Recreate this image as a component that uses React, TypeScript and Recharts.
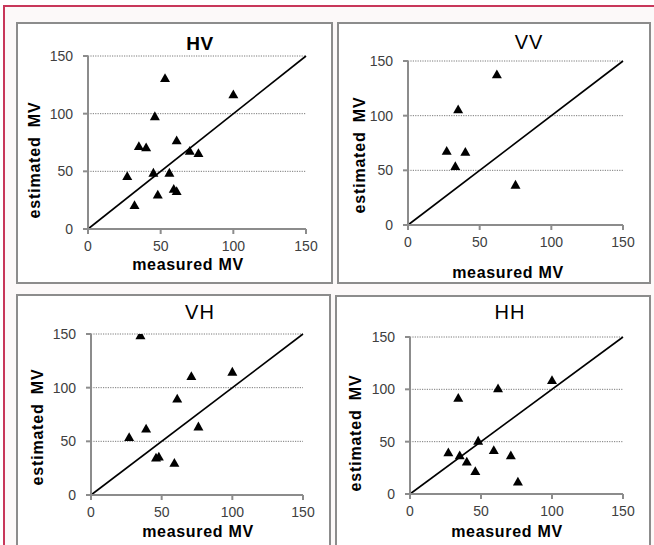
import React from "react";
import {
  ScatterChart,
  Scatter,
  XAxis,
  YAxis,
  CartesianGrid,
  ReferenceLine,
} from "recharts";

// ---- data (measured MV, estimated MV) ----
const hvMeasured = [53, 100, 46, 35, 40, 61, 70, 76, 27, 45, 56, 48, 59, 61, 32];
const hvEstimated = [130, 116, 97, 71, 70, 76, 67, 65, 45, 48, 48, 29, 34, 32, 20];

const vvMeasured = [62, 35, 27, 40, 33, 75];
const vvEstimated = [137, 105, 67, 66, 53, 36];

const vhMeasured = [35, 71, 100, 61, 39, 76, 27, 46, 48, 59];
const vhEstimated = [148, 110, 114, 89, 61, 63, 53, 34, 35, 29];

const hhMeasured = [100, 62, 34, 48, 27, 59, 35, 71, 40, 46, 76];
const hhEstimated = [108, 100, 91, 50, 39, 41, 36, 36, 30, 21, 11];

const axisTicks = [0, 50, 100, 150];
const panelTitles = ["HV", "VV", "VH", "HH"];
const xLabel = "measured MV";
const yLabel = "estimated MV";

const toPoints = (xs: number[], ys: number[]) => xs.map((x, i) => ({ x, y: ys[i] }));

const FONT = "'Liberation Sans', Arial, sans-serif";
const AXIS_GRAY = "#8c8c8c";

type Layout = {
  box: { x: number; y: number; w: number; h: number };
  plot: { x0: number; y0: number; x1: number; y1: number };
  title: { cx: number; cy: number; bold: boolean };
  xl: { cx: number; cy: number };
  yl: { cx: number; cy: number };
};

const layouts: Layout[] = [
  {
    box: { x: 16, y: 22, w: 317, h: 262 },
    plot: { x0: 88, y0: 56, x1: 306, y1: 229 },
    title: { cx: 200, cy: 43, bold: true },
    xl: { cx: 188, cy: 265 },
    yl: { cx: 35, cy: 160 },
  },
  {
    box: { x: 337, y: 22, w: 314, h: 262 },
    plot: { x0: 408, y0: 61, x1: 623, y1: 225 },
    title: { cx: 529, cy: 42, bold: false },
    xl: { cx: 508, cy: 273 },
    yl: { cx: 360, cy: 155 },
  },
  {
    box: { x: 16, y: 294, w: 315, h: 254 },
    plot: { x0: 91, y0: 334, x1: 303, y1: 495 },
    title: { cx: 200, cy: 312, bold: false },
    xl: { cx: 198, cy: 532 },
    yl: { cx: 38, cy: 427 },
  },
  {
    box: { x: 335, y: 295, w: 316, h: 253 },
    plot: { x0: 410, y0: 337, x1: 623, y1: 494 },
    title: { cx: 510, cy: 312, bold: false },
    xl: { cx: 507, cy: 532 },
    yl: { cx: 356, cy: 433 },
  },
];

const datasets = [
  toPoints(hvMeasured, hvEstimated),
  toPoints(vvMeasured, vvEstimated),
  toPoints(vhMeasured, vhEstimated),
  toPoints(hhMeasured, hhEstimated),
];

const Y_AXIS_W = 40;
const X_AXIS_H = 30;

// small filled triangle marker, centroid on the data point
const TriangleMarker = (props: any) => {
  const { cx, cy } = props;
  if (cx == null || cy == null) return null;
  const hw = 5;
  return (
    <path
      d={`M${cx},${cy - 5.8} L${cx + hw},${cy + 3} L${cx - hw},${cy + 3} Z`}
      fill="#000"
    />
  );
};

function Panel({ layout, data, title }: { layout: Layout; data: { x: number; y: number }[]; title: string }) {
  const { box, plot } = layout;
  const margin = {
    top: plot.y0 - box.y,
    right: box.x + box.w - plot.x1,
    left: plot.x0 - box.x - Y_AXIS_W,
    bottom: box.y + box.h - plot.y1 - X_AXIS_H,
  };
  const centered: React.CSSProperties = {
    position: "absolute",
    whiteSpace: "nowrap",
    lineHeight: 1,
    fontFamily: FONT,
    color: "#000",
  };
  return (
    <>
      <div
        style={{
          position: "absolute",
          left: box.x,
          top: box.y,
          width: box.w,
          height: box.h,
          boxSizing: "border-box",
          border: `2px solid ${AXIS_GRAY}`,
          background: "#fff",
        }}
      />
      <div style={{ position: "absolute", left: box.x, top: box.y }}>
        <ScatterChart width={box.w} height={box.h} margin={margin}>
          <CartesianGrid
            horizontal
            vertical={false}
            stroke="#7a7a7a"
            strokeDasharray="1.2 1.2"
          />
          <XAxis
            type="number"
            dataKey="x"
            domain={[0, 150]}
            ticks={axisTicks}
            allowDataOverflow
            height={X_AXIS_H}
            axisLine={{ stroke: AXIS_GRAY, strokeWidth: 2 }}
            tickLine={{ stroke: AXIS_GRAY, strokeWidth: 2 }}
            tickSize={5}
            tickMargin={7}
            tick={{ fontSize: 14, fill: "#404040", fontFamily: FONT }}
          />
          <YAxis
            type="number"
            dataKey="y"
            domain={[0, 150]}
            ticks={axisTicks}
            allowDataOverflow
            width={Y_AXIS_W}
            axisLine={{ stroke: AXIS_GRAY, strokeWidth: 2 }}
            tickLine={{ stroke: AXIS_GRAY, strokeWidth: 2 }}
            tickSize={5}
            tickMargin={10}
            tick={{ fontSize: 14, fill: "#404040", fontFamily: FONT }}
          />
          <ReferenceLine
            segment={[
              { x: 0, y: 0 },
              { x: 150, y: 150 },
            ]}
            stroke="#000"
            strokeWidth={1.6}
          />
          <Scatter data={data} shape={TriangleMarker} fill="#000" isAnimationActive={false} />
        </ScatterChart>
      </div>
      <div
        style={{
          ...centered,
          left: layout.title.cx,
          top: layout.title.cy,
          transform: "translate(-50%, -50%)",
          fontSize: layout.title.bold ? 19 : 20,
          fontWeight: layout.title.bold ? 700 : 400,
          letterSpacing: layout.title.bold ? 0.5 : 1,
        }}
      >
        {title}
      </div>
      <div
        style={{
          ...centered,
          left: layout.xl.cx,
          top: layout.xl.cy,
          transform: "translate(-50%, -50%)",
          fontSize: 16,
          fontWeight: 700,
          letterSpacing: 0.7,
        }}
      >
        {xLabel}
      </div>
      <div
        style={{
          ...centered,
          left: layout.yl.cx,
          top: layout.yl.cy,
          transform: "translate(-50%, -50%) rotate(-90deg)",
          fontSize: 16,
          fontWeight: 700,
          letterSpacing: 0.8,
          wordSpacing: 4,
        }}
      >
        {yLabel}
      </div>
    </>
  );
}

export default function App() {
  return (
    <div
      style={{
        position: "absolute",
        left: 0,
        top: 0,
        width: 654,
        height: 545,
        overflow: "hidden",
        background: "#fff",
      }}
    >
      <div
        style={{
          position: "absolute",
          left: 3,
          top: 5,
          width: 700,
          height: 600,
          borderTop: "2px solid #c8375a",
          borderLeft: "2px solid #c8375a",
          background: "#fcf9f9",
        }}
      />
      {layouts.map((l, i) => (
        <Panel key={i} layout={l} data={datasets[i]} title={panelTitles[i]} />
      ))}
    </div>
  );
}
